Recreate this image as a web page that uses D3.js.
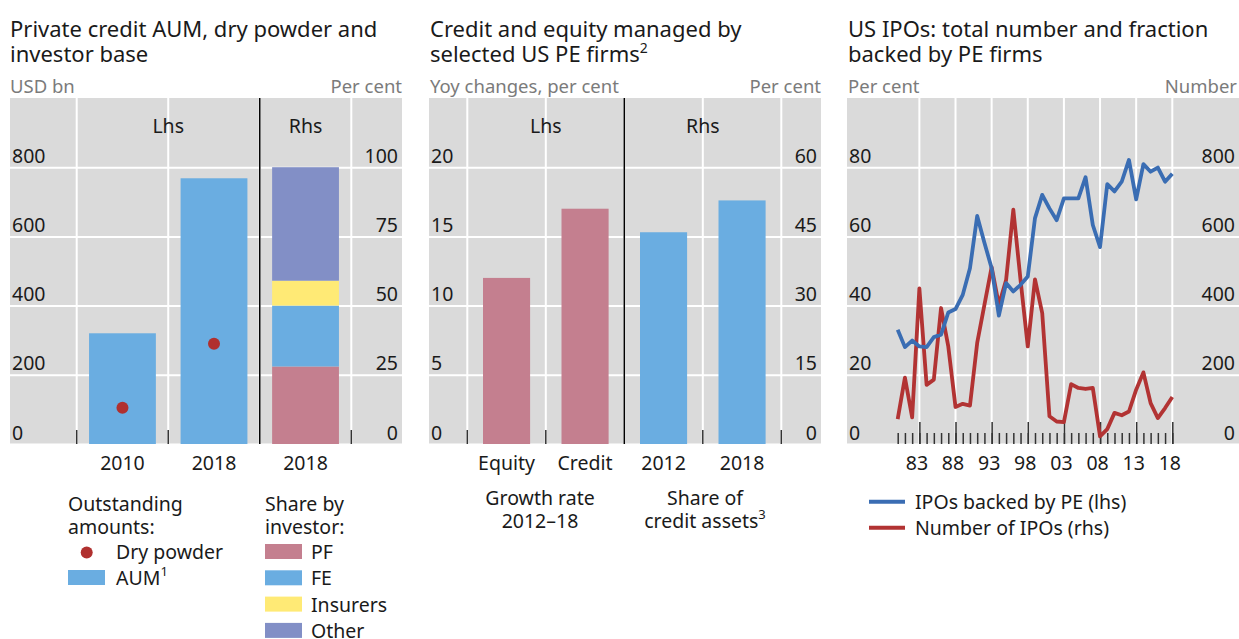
<!DOCTYPE html>
<html>
<head>
<meta charset="utf-8">
<script src="https://cdn.jsdelivr.net/npm/d3@7"></script>
<style>
body { margin: 0; background: #fff; }
svg { display: block; font-family: "Noto Sans", sans-serif; }
</style>
</head>
<body>
<div id="chart"></div>
<script>
// Panel 1: private credit AUM, dry powder, investor base
var aumYears = ["2010", "2018"];
var aumValues = [320, 768];
var dryPowder = [105, 290];
var investorTypes = ["PF", "FE", "Insurers", "Other"];
var investorShares = [28, 22, 9, 41];
var p1LhsTicks = [0, 200, 400, 600, 800];
var p1RhsTicks = [0, 25, 50, 75, 100];

// Panel 2: credit and equity managed by US PE firms
var growthCats = ["Equity", "Credit"];
var growthRates = [12.0, 17.0];
var shareYears = ["2012", "2018"];
var creditShares = [45.9, 52.8];
var p2LhsTicks = [0, 5, 10, 15, 20];
var p2RhsTicks = [0, 15, 30, 45, 60];

// Panel 3: US IPOs
var ipoYears = [1980, 1981, 1982, 1983, 1984, 1985, 1986, 1987, 1988, 1989,
    1990, 1991, 1992, 1993, 1994, 1995, 1996, 1997, 1998, 1999,
    2000, 2001, 2002, 2003, 2004, 2005, 2006, 2007, 2008, 2009,
    2010, 2011, 2012, 2013, 2014, 2015, 2016, 2017, 2018];
var peBacked = [33.0, 28.0, 29.9, 28.2, 28.0, 30.9, 31.6, 38.0, 39.0, 43.1,
    50.8, 65.9, 58.2, 50.8, 37.1, 46.5, 44.1, 46.0, 48.4, 65.3,
    72.0, 68.1, 64.7, 71.0, 71.0, 71.0, 77.1, 63.3, 56.9, 75.1,
    73.0, 75.8, 82.1, 70.7, 80.9, 78.7, 79.9, 75.8, 78.1];
var ipoCount = [72, 192, 77, 450, 171, 186, 393, 282, 107, 116,
    111, 292, 402, 511, 402, 474, 677, 474, 282, 476,
    378, 80, 65, 63, 173, 162, 159, 162, 22, 43,
    90, 83, 94, 157, 207, 118, 75, 104, 136];
var ipoMajorYears = [1983, 1988, 1993, 1998, 2003, 2008, 2013, 2018];
var p3LhsTicks = [0, 20, 40, 60, 80];
var p3RhsTicks = [0, 200, 400, 600, 800];

var colors = {
    bg: "#dadada", grid: "#ffffff", text: "#1a1a1a", unit: "#7b7b7b",
    aum: "#6aade1", dot: "#b0302f",
    PF: "#c47f8f", FE: "#6aade1", Insurers: "#ffea75", Other: "#828fc6",
    blue: "#3a6db3", red: "#b23333"
};

var TOP = 98, BOTTOM = 444;

var svg = d3.select("#chart").append("svg")
    .attr("width", 1239)
    .attr("height", 639);

function title(x, lines) {
    var t = svg.append("text")
        .attr("x", x).attr("y", 37)
        .attr("font-size", 22)
        .attr("fill", colors.text);
    lines.forEach(function(l, i) {
        t.append("tspan").attr("x", x).attr("dy", i ? 25 : 0).text(l[0]);
        if (l[1]) {
            t.append("tspan").attr("font-size", 14).attr("dy", -9).text(l[1]);
        }
    });
}

function units(left, right, lText, rText) {
    svg.append("text").attr("x", left).attr("y", 93)
        .attr("font-size", 18.5).attr("fill", colors.unit).text(lText);
    svg.append("text").attr("x", right).attr("y", 93)
        .attr("text-anchor", "end")
        .attr("font-size", 18.5).attr("fill", colors.unit).text(rText);
}

function frame(left, right, yL, yR, lTicks, rTicks) {
    var g = svg.append("g");
    g.append("rect")
        .attr("x", left).attr("y", TOP)
        .attr("width", right - left).attr("height", BOTTOM - TOP)
        .attr("fill", colors.bg);

    var grid = g.append("g")
        .attr("transform", "translate(" + left + ",0)")
        .call(d3.axisRight(yL).tickValues(lTicks).tickSize(right - left).tickFormat(""));
    grid.select(".domain").remove();
    grid.selectAll("line").attr("stroke", colors.grid).attr("stroke-width", 2);
    return g;
}

function tickLabels(left, right, yL, yR, lTicks, rTicks) {
    var la = svg.append("g")
        .attr("transform", "translate(" + (left + 2) + ",0)")
        .call(d3.axisRight(yL).tickValues(lTicks).tickSize(0).tickPadding(0));
    var ra = svg.append("g")
        .attr("transform", "translate(" + (right - 4) + ",0)")
        .call(d3.axisLeft(yR).tickValues(rTicks).tickSize(0).tickPadding(0));
    [la, ra].forEach(function(a) {
        a.select(".domain").remove();
        a.attr("font-family", null).attr("font-size", 19.5);
        a.selectAll("text").attr("dy", null).attr("y", -5).attr("fill", colors.text);
    });
}

function bandTicks(x, n, sepIndex) {
    var r0 = x.range()[0];
    var bounds = d3.range(n + 1).map(function(i) { return r0 + i * x.step(); });
    svg.append("g").selectAll("line")
        .data(bounds)
        .enter().append("line")
        .attr("x1", d => d).attr("x2", d => d)
        .attr("y1", (d, i) => i === sepIndex ? TOP : BOTTOM - 14)
        .attr("y2", BOTTOM)
        .attr("stroke", (d, i) => i === sepIndex ? "#000" : "#333")
        .attr("stroke-width", 1.5);
    return bounds;
}

// vertical gridlines at category boundaries
function vGrid(g, xs) {
    g.selectAll(".vgrid")
        .data(xs)
        .enter().append("line")
        .attr("class", "vgrid")
        .attr("x1", d => d).attr("x2", d => d)
        .attr("y1", TOP).attr("y2", BOTTOM)
        .attr("stroke", colors.grid).attr("stroke-width", 2);
}

function label(x, y, text, size, anchor) {
    return svg.append("text")
        .attr("x", x).attr("y", y)
        .attr("font-size", size || 19.5)
        .attr("text-anchor", anchor || "middle")
        .attr("fill", colors.text)
        .text(text);
}

// ---------- Panel 1 ----------
(function() {
    var left = 10, right = 402;
    var yL = d3.scaleLinear().domain([0, 1000]).range([BOTTOM, TOP]);
    var yR = d3.scaleLinear().domain([0, 125]).range([BOTTOM, TOP]);
    var x = d3.scaleBand().domain([0, 1, 2]).range([76.7, 351.3])
        .paddingInner(0.27).paddingOuter(0.135);

    title(10, [["Private credit AUM, dry powder and"], ["investor base"]]);
    units(10, right, "USD bn", "Per cent");

    var g = frame(left, right, yL, yR, p1LhsTicks, p1RhsTicks);
    var bounds = d3.range(4).map(i => x.range()[0] + i * x.step());
    vGrid(g, bounds);

    svg.append("g").selectAll("rect")
        .data(aumValues)
        .enter().append("rect")
        .attr("x", (d, i) => x(i))
        .attr("y", d => yL(d))
        .attr("width", x.bandwidth())
        .attr("height", d => yL(0) - yL(d))
        .attr("fill", colors.aum);

    var row = {};
    investorTypes.forEach((k, i) => row[k] = investorShares[i]);
    var stacked = d3.stack().keys(investorTypes)([row]);
    svg.append("g").selectAll("rect")
        .data(stacked)
        .enter().append("rect")
        .attr("x", x(2))
        .attr("y", d => yR(d[0][1]))
        .attr("width", x.bandwidth())
        .attr("height", d => yR(d[0][0]) - yR(d[0][1]))
        .attr("fill", d => colors[d.key]);

    svg.append("g").selectAll("circle")
        .data(dryPowder)
        .enter().append("circle")
        .attr("cx", (d, i) => x(i) + x.bandwidth() / 2)
        .attr("cy", d => yL(d))
        .attr("r", 6)
        .attr("fill", colors.dot);

    bandTicks(x, 3, 2);
    tickLabels(left, right, yL, yR, p1LhsTicks, p1RhsTicks);
    label((bounds[0] + bounds[2]) / 2, 133, "Lhs");
    label(x(2) + x.bandwidth() / 2, 133, "Rhs");

    var cats = aumYears.concat(["2018"]);
    cats.forEach((c, i) => label(x(i) + x.bandwidth() / 2, 470, c));

    // legend
    label(68, 511, "Outstanding", 19.5, "start");
    label(68, 534, "amounts:", 19.5, "start");
    svg.append("circle").attr("cx", 86.7).attr("cy", 552.5).attr("r", 6).attr("fill", colors.dot);
    label(116, 559, "Dry powder", 19.5, "start");
    svg.append("rect").attr("x", 68).attr("y", 570).attr("width", 37).attr("height", 15).attr("fill", colors.aum);
    var t = label(116, 585, "AUM", 19.5, "start");
    t.append("tspan").attr("font-size", 13).attr("dy", -9).text("1");

    label(265, 511, "Share by", 19.5, "start");
    label(265, 534, "investor:", 19.5, "start");
    investorTypes.forEach(function(k, i) {
        svg.append("rect").attr("x", 265).attr("y", 544 + i * 26.3)
            .attr("width", 37).attr("height", 15).attr("fill", colors[k]);
        label(311, 559 + i * 26.3, k, 19.5, "start");
    });
})();

// ---------- Panel 2 ----------
(function() {
    var left = 429, right = 821;
    var yL = d3.scaleLinear().domain([0, 25]).range([BOTTOM, TOP]);
    var yR = d3.scaleLinear().domain([0, 75]).range([BOTTOM, TOP]);
    var cats = growthCats.concat(shareYears);
    var x = d3.scaleBand().domain(d3.range(4)).range([467.3, 781.3])
        .paddingInner(0.4).paddingOuter(0.2);

    title(430, [["Credit and equity managed by"], ["selected US PE firms", "2"]]);
    units(430, right, "Yoy changes, per cent", "Per cent");

    var g = frame(left, right, yL, yR, p2LhsTicks, p2RhsTicks);
    var bounds = d3.range(5).map(i => x.range()[0] + i * x.step());
    vGrid(g, bounds);

    svg.append("g").selectAll("rect")
        .data(growthRates)
        .enter().append("rect")
        .attr("x", (d, i) => x(i))
        .attr("y", d => yL(d))
        .attr("width", x.bandwidth())
        .attr("height", d => yL(0) - yL(d))
        .attr("fill", colors.PF);

    svg.append("g").selectAll("rect")
        .data(creditShares)
        .enter().append("rect")
        .attr("x", (d, i) => x(i + 2))
        .attr("y", d => yR(d))
        .attr("width", x.bandwidth())
        .attr("height", d => yR(0) - yR(d))
        .attr("fill", colors.FE);

    bandTicks(x, 4, 2);
    tickLabels(left, right, yL, yR, p2LhsTicks, p2RhsTicks);
    label(bounds[1], 133, "Lhs");
    label(bounds[3], 133, "Rhs");

    cats.forEach((c, i) => label(x(i) + x.bandwidth() / 2, 470, c));
    label(540, 505, "Growth rate");
    label(540, 528, "2012\u201318");
    label(705, 505, "Share of");
    var t = label(705, 528, "credit assets");
    t.append("tspan").attr("font-size", 13).attr("dy", -9).text("3");
})();

// ---------- Panel 3 ----------
(function() {
    var left = 847, right = 1239;
    var yL = d3.scaleLinear().domain([0, 100]).range([BOTTOM, TOP]);
    var yR = d3.scaleLinear().domain([0, 1000]).range([BOTTOM, TOP]);
    var x = d3.scaleLinear().domain([1980, 2018]).range([897.7, 1172.3]);

    title(848, [["US IPOs: total number and fraction"], ["backed by PE firms"]]);
    units(848, 1237, "Per cent", "Number");

    var g = frame(left, right, yL, yR, p3LhsTicks, p3RhsTicks);
    vGrid(g, ipoMajorYears.map(x));

    var minor = svg.append("g")
        .attr("transform", "translate(0," + BOTTOM + ")")
        .call(d3.axisBottom(x).tickValues(ipoYears).tickSizeInner(-11).tickSizeOuter(0).tickFormat(""));
    minor.select(".domain").remove();
    var major = svg.append("g")
        .attr("transform", "translate(0," + BOTTOM + ")")
        .call(d3.axisBottom(x).tickValues(ipoMajorYears).tickSizeInner(-22).tickSizeOuter(0)
            .tickPadding(12).tickFormat(d => String(d).slice(2)));
    major.select(".domain").remove();
    [minor, major].forEach(function(a) {
        a.attr("font-family", null).attr("font-size", 19.5);
        a.selectAll("line").attr("stroke", "#333").attr("stroke-width", 1.5);
        a.selectAll("text").attr("fill", colors.text).attr("dx", -3);
    });

    tickLabels(left, 1239, yL, yR, p3LhsTicks, p3RhsTicks);

    var blueLine = d3.line().x((d, i) => x(ipoYears[i])).y(d => yL(d));
    var redLine = d3.line().x((d, i) => x(ipoYears[i])).y(d => yR(d));
    svg.append("path").datum(ipoCount)
        .attr("d", redLine).attr("fill", "none")
        .attr("stroke", colors.red).attr("stroke-width", 3.8).attr("stroke-linejoin", "round");
    svg.append("path").datum(peBacked)
        .attr("d", blueLine).attr("fill", "none")
        .attr("stroke", colors.blue).attr("stroke-width", 3.8).attr("stroke-linejoin", "round");

    // legend
    var items = [["IPOs backed by PE (lhs)", colors.blue], ["Number of IPOs (rhs)", colors.red]];
    items.forEach(function(it, i) {
        var yy = 501.7 + i * 26;
        svg.append("line").attr("x1", 869).attr("x2", 905).attr("y1", yy).attr("y2", yy)
            .attr("stroke", it[1]).attr("stroke-width", 4);
        label(915, yy + 7, it[0], 19.5, "start");
    });
})();
</script>
</body>
</html>
